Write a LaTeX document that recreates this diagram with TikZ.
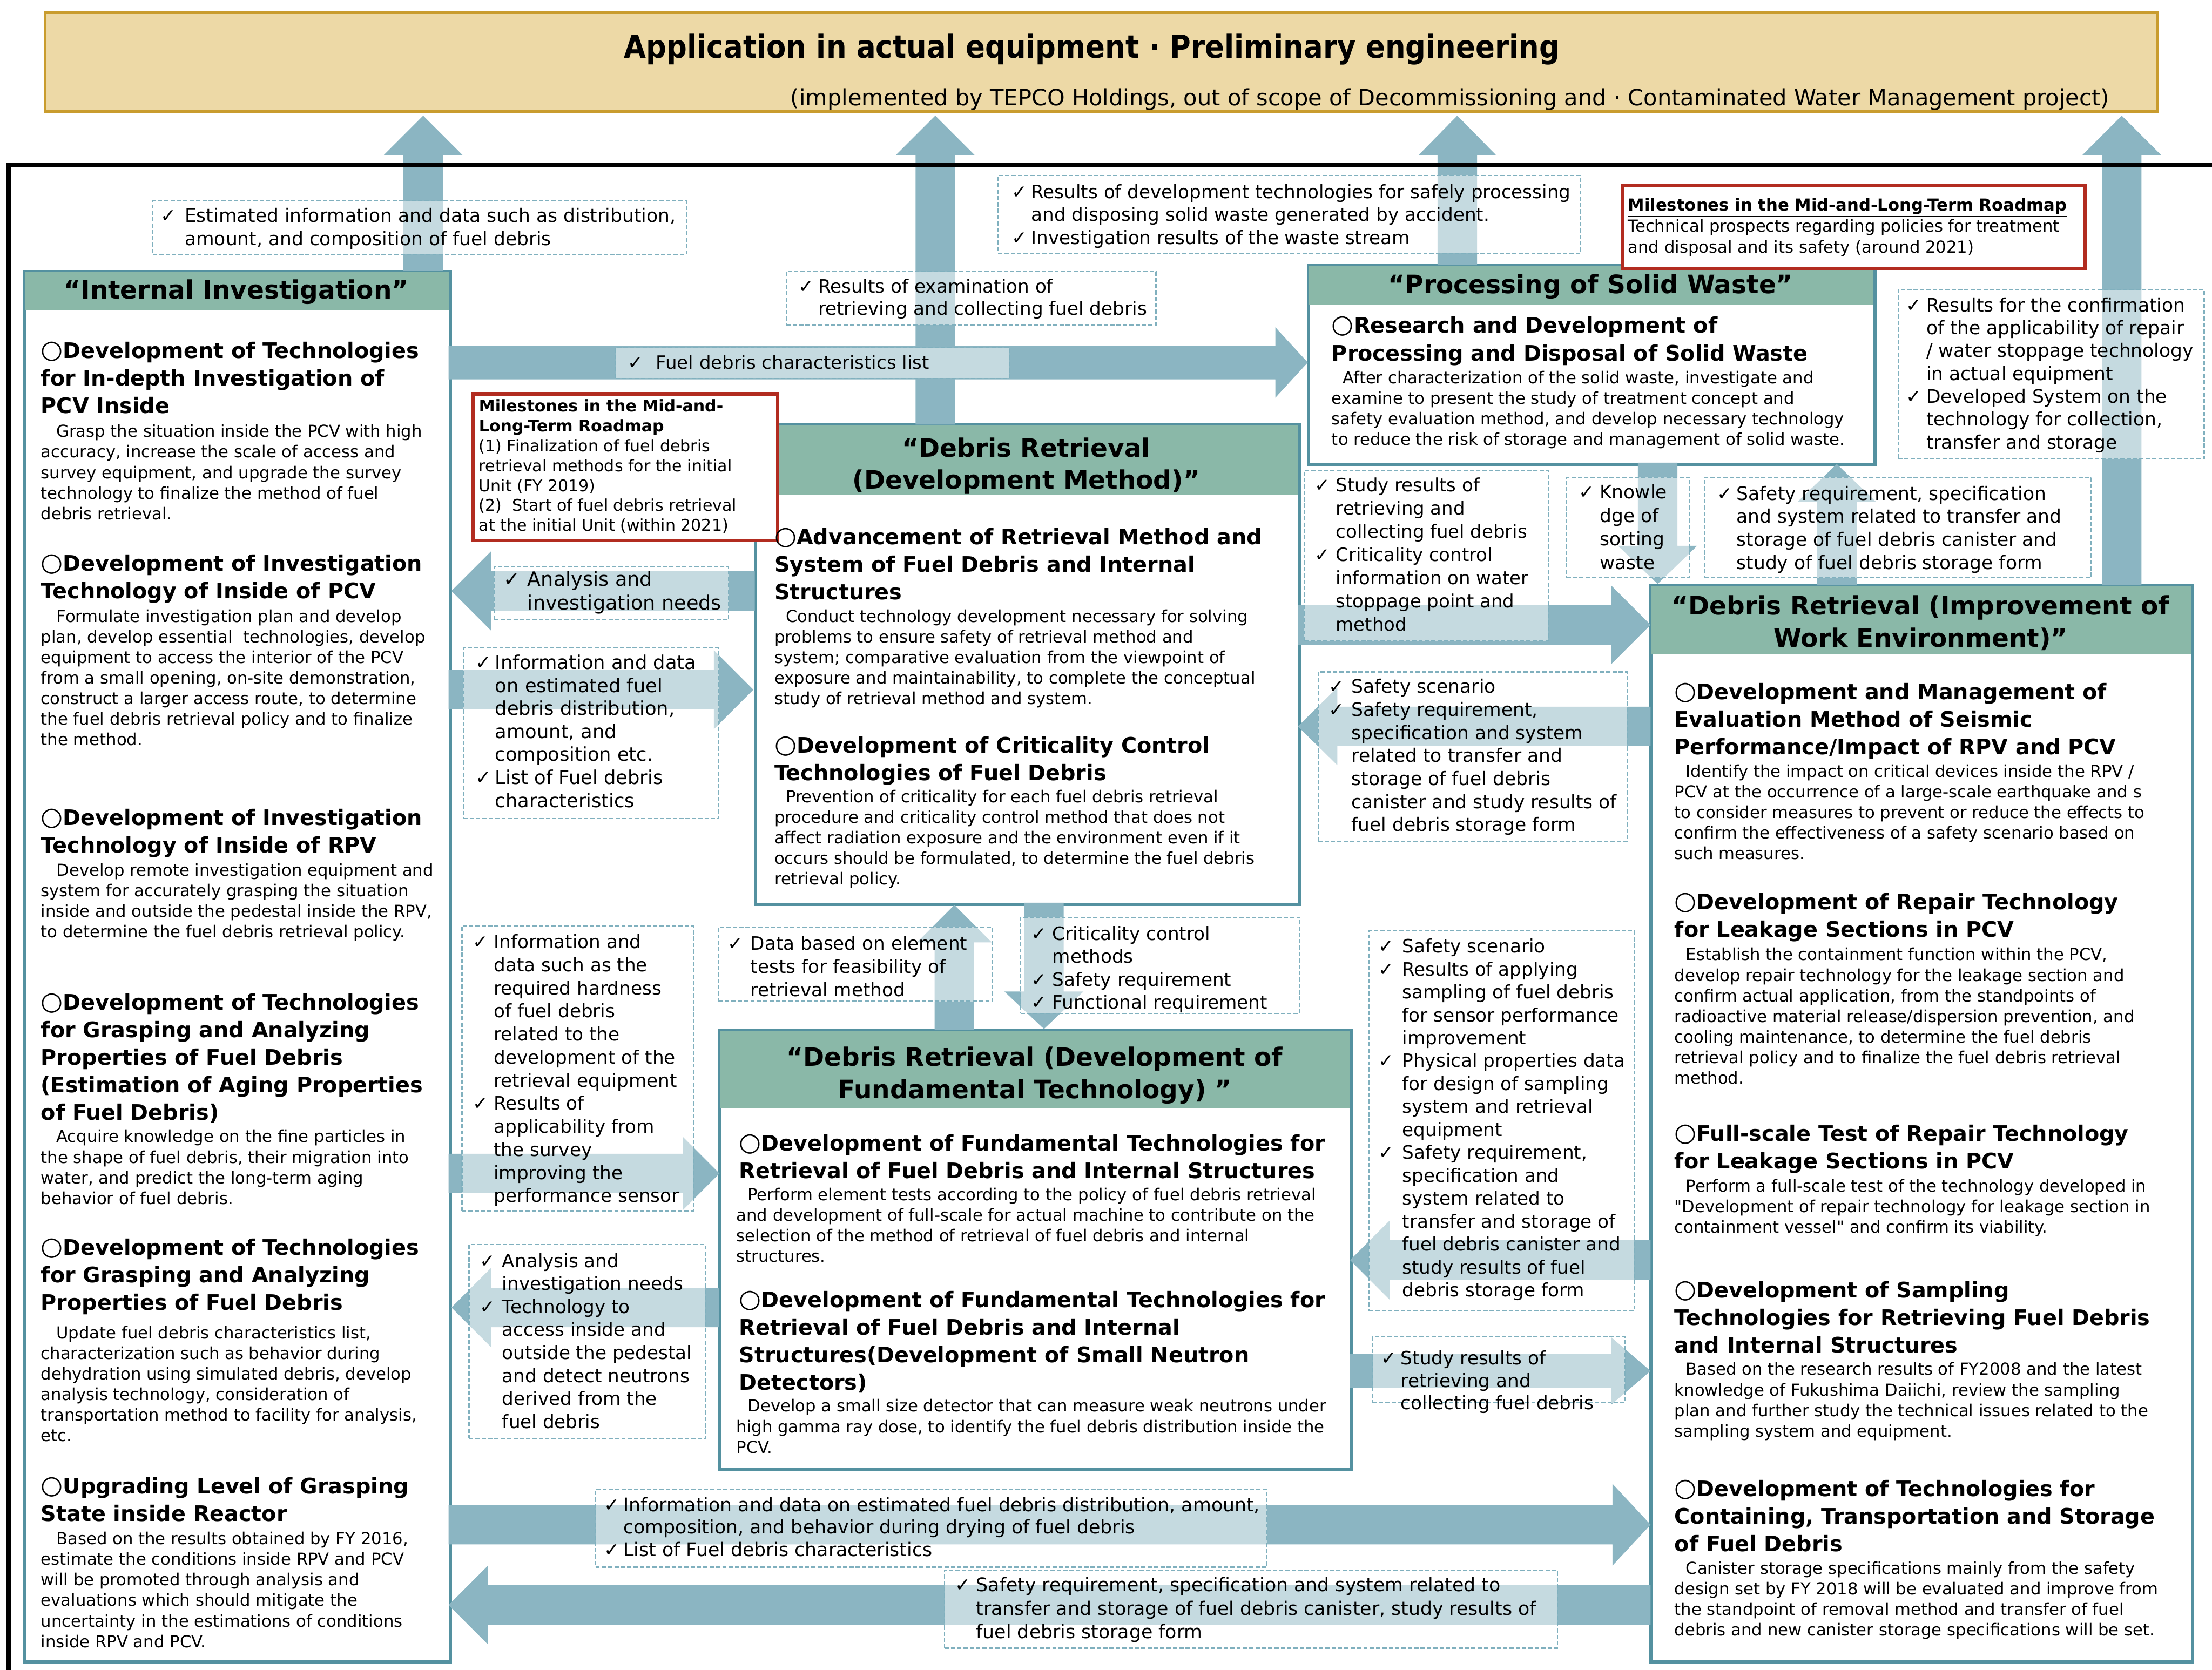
\documentclass[tikz,border=0pt]{standalone}
\usepackage{fontspec}
\setmainfont{DejaVu Sans}
\newfontfamily\narf{DejaVu Sans}[FakeStretch=0.9]
\newfontfamily\qf{DejaVu Sans}
\definecolor{arrowc}{RGB}{139,181,194}
\definecolor{lblc}{RGB}{128,176,190}
\definecolor{boxc}{RGB}{84,145,160}
\definecolor{hdrc}{RGB}{138,184,168}
\definecolor{banf}{RGB}{237,217,166}
\definecolor{band}{RGB}{201,156,46}
\definecolor{redc}{RGB}{178,44,32}
\newcommand\myVL[1]{\vtop{\halign{##\hfil\cr#1\crcr}}}
\newcommand\myVC[1]{\vtop{\halign{\hfil##\hfil\cr#1\crcr}}}
\def\cw{15pt}
\newcommand\ckm{\makebox[\cw][l]{✓}}
\newcommand\indm{\hspace*{\cw}}
\newcommand\iim{\hspace*{8pt}}
\newcommand\oom{{\mdseries\fontsize{18}{19.5}\selectfont ○}}
\newcommand\sq{{\qf"}}
\newcommand\arR[6]{\fill[arr] (#1,{#3-#4}) -- ({#2-#6},{#3-#4}) -- ({#2-#6},{#3-#5}) -- (#2,#3) -- ({#2-#6},{#3+#5}) -- ({#2-#6},{#3+#4}) -- (#1,{#3+#4}) -- cycle;}
\newcommand\arL[6]{\fill[arr] (#1,{#3-#4}) -- ({#2+#6},{#3-#4}) -- ({#2+#6},{#3-#5}) -- (#2,#3) -- ({#2+#6},{#3+#5}) -- ({#2+#6},{#3+#4}) -- (#1,{#3+#4}) -- cycle;}
\newcommand\arU[6]{\fill[arr] ({#1-#4},#2) -- ({#1-#4},{#3+#6}) -- ({#1-#5},{#3+#6}) -- (#1,#3) -- ({#1+#5},{#3+#6}) -- ({#1+#4},{#3+#6}) -- ({#1+#4},#2) -- cycle;}
\newcommand\arD[6]{\fill[arr] ({#1-#4},#2) -- ({#1-#4},{#3-#6}) -- ({#1-#5},{#3-#6}) -- (#1,#3) -- ({#1+#5},{#3-#6}) -- ({#1+#4},{#3-#6}) -- ({#1+#4},#2) -- cycle;}
\tikzset{
  arr/.style={fill=arrowc},
  mbox/.style={draw=boxc, line width=1.5pt, fill=white, anchor=north west, inner sep=0pt},
  lbl/.style={draw=lblc, dash pattern=on 3pt off 1.5pt, line width=0.9pt, fill=white, fill opacity=0.5, anchor=north west, inner sep=0pt},
  mst/.style={draw=redc, line width=2.5pt, fill=white, anchor=north west, inner sep=0pt},
  txt/.style={anchor=base west, inner sep=0pt, outer sep=0pt},
  body/.style={txt, font=\fontsize{11.75}{14.6}\selectfont},
  head/.style={txt, font=\bfseries\fontsize{15.2}{19.5}\selectfont},
  hdrt/.style={txt, anchor=base, font=\bfseries\fontsize{18}{22.7}\selectfont},
  lab/.style={txt, font=\fontsize{#1}{16.3}\selectfont},
  labp/.style 2 args={txt, font=\fontsize{#1}{#2}\selectfont},
}
\begin{document}
\begin{tikzpicture}[x=1pt,y=-1pt]
\useasboundingbox (0,0) rectangle (1568,1184);
% banner
\node[draw=band, fill=banf, line width=2pt, anchor=north west, minimum width=1497pt, minimum height=70pt, inner sep=0pt] (banner) at (31,8) {};
\node[txt, anchor=base, font=\narf\bfseries\fontsize{22.5}{27}\selectfont] (title) at (774,41) {Application in actual equipment · Preliminary engineering};
\node[txt, anchor=base east, font=\fontsize{15.9}{19}\selectfont] (subtitle) at (1495,75) {(implemented by TEPCO Holdings, out of scope of Decommissioning and · Contaminated Water Management project)};

% main boxes
\node[mbox, minimum width=301pt, minimum height=985pt] (lbox) at (17,192) {};
\node[mbox, minimum width=385pt, minimum height=339pt] (cbox) at (535,301) {};
\node[mbox, minimum width=401pt, minimum height=140pt] (pbox) at (927,188) {};
\node[mbox, minimum width=383pt, minimum height=762pt] (rbox) at (1170,415) {};
\node[mbox, minimum width=447pt, minimum height=311pt] (fbox) at (510,730) {};
\fill[hdrc] (17,192) rectangle (318,220);
\fill[hdrc] (535,301) rectangle (920,351);
\fill[hdrc] (927,188) rectangle (1328,216);
\fill[hdrc] (1170,415) rectangle (1553,464);
\fill[hdrc] (510,730) rectangle (957,786);
\foreach \b in {lbox,cbox,pbox,rbox,fbox} {\draw[boxc, line width=1.5pt] (\b.north west) rectangle (\b.south east);}

% arrows
\arU{300}{192}{82}{14}{28}{28}
\arU{663}{301}{82}{14}{28}{28}
\arU{1033}{188}{82}{14}{27.5}{28}
\arU{1504}{415}{82}{14}{28}{28}
\arR{318}{927}{257}{12}{25}{23}
\arL{535}{320}{419}{14}{28}{28}
\arR{318}{534}{489}{14}{28}{28}
\arR{920}{1170}{443}{14}{28}{28}
\arL{1170}{920}{515}{14}{27.5}{28}
\arD{1175}{328}{414}{14}{28}{27}
\arU{1302}{415}{329}{14}{28}{27}
\arU{676.5}{730}{641.6}{14}{26.5}{26.5}
\arD{740}{640}{729.5}{14}{28}{26.5}
\arR{318}{510}{832}{14}{26}{26}
\arL{509.5}{320}{927}{14}{28}{28}
\arL{1170}{957}{893.4}{14}{28}{28}
\arR{957}{1170}{972}{12}{24}{28}
\arR{318}{1170}{1081}{14}{29}{27}
\arL{1170}{318}{1138}{14}{28}{28}

% frame
\draw[line width=3pt] (1575,117) -- (6,117) -- (6,1195);

% milestones
\node[mst, minimum width=216pt, minimum height=104pt] (ms1) at (334,278) {};
\node[mst, minimum width=328pt, minimum height=59pt] (ms2) at (1149,130) {};

% label boxes
\node[lbl, minimum width=378pt, minimum height=38pt] (bL1) at (108,142) {};
\node[lbl, minimum width=413pt, minimum height=55pt] (bL2) at (707,124) {};
\node[lbl, minimum width=262pt, minimum height=38pt] (bL3) at (557,192) {};
\node[lbl, minimum width=279pt, minimum height=22pt] (bL4) at (436,246) {};
\node[lbl, minimum width=217pt, minimum height=120pt] (bL5) at (1345,205) {};
\node[lbl, minimum width=166pt, minimum height=38pt] (bL6) at (350,401) {};
\node[lbl, minimum width=181pt, minimum height=121pt] (bL7) at (328,459) {};
\node[lbl, minimum width=173pt, minimum height=121pt] (bL8) at (924,333) {};
\node[lbl, minimum width=219pt, minimum height=120pt] (bL9) at (934,476) {};
\node[lbl, minimum width=87pt, minimum height=71pt] (bL10) at (1110,338) {};
\node[lbl, minimum width=274pt, minimum height=71pt] (bL11) at (1208,338) {};
\node[lbl, minimum width=194pt, minimum height=52.5pt] (bL12) at (509,657) {};
\node[lbl, minimum width=198pt, minimum height=68pt] (bL13) at (723,650) {};
\node[lbl, minimum width=164pt, minimum height=202pt] (bL14) at (327,656) {};
\node[lbl, minimum width=167.5pt, minimum height=137.5pt] (bL15) at (332,882) {};
\node[lbl, minimum width=188pt, minimum height=269.5pt] (bL16) at (970,659.5) {};
\node[lbl, minimum width=179pt, minimum height=47pt] (bL17) at (972.5,947) {};
\node[lbl, minimum width=476pt, minimum height=55pt] (bL18) at (421.6,1055.7) {};
\node[lbl, minimum width=434.6pt, minimum height=55pt] (bL19) at (669,1113) {};

% header texts
\node[hdrt] (hL) at (167.5,212) {\myVC{“Internal Investigation”}};
\node[hdrt] (hC) at (727.5,324) {\myVC{“Debris Retrieval\cr(Development Method)”}};
\node[hdrt] (hP) at (1127.5,208) {\myVC{“Processing of Solid Waste”}};
\node[hdrt] (hR) at (1361.5,436) {\myVC{“Debris Retrieval (Improvement of\cr Work Environment)”}};
\node[hdrt] (hF) at (733.5,756) {\myVC{“Debris Retrieval (Development of\cr Fundamental Technology) ”}};

% left box texts
\node[head] (l1h) at (29,254) {\myVL{\oom Development of Technologies\cr for In-depth Investigation of\cr PCV Inside}};
\node[body] (l1b) at (29,310) {\myVL{\hspace*{11pt}Grasp the situation inside the PCV with high\cr accuracy, increase the scale of access and\cr survey equipment, and upgrade the survey\cr technology to finalize the method of fuel\cr debris retrieval.}};
\node[head] (l2h) at (29,405) {\myVL{\oom Development of Investigation\cr Technology of Inside of PCV}};
\node[body] (l2b) at (29,441) {\myVL{\hspace*{11pt}Formulate investigation plan and develop\cr plan, develop essential\ \ technologies, develop\cr equipment to access the interior of the PCV\cr from a small opening, on-site demonstration,\cr construct a larger access route, to determine\cr the fuel debris retrieval policy and to finalize\cr the method.}};
\node[head] (l3h) at (29,585) {\myVL{\oom Development of Investigation\cr Technology of Inside of RPV}};
\node[body] (l3b) at (29,621) {\myVL{\hspace*{11pt}Develop remote investigation equipment and\cr system for accurately grasping the situation\cr inside and outside the pedestal inside the RPV,\cr to determine the fuel debris retrieval policy.}};
\node[head] (l4h) at (29,716) {\myVL{\oom Development of Technologies\cr for Grasping and Analyzing\cr Properties of Fuel Debris\cr (Estimation of Aging Properties\cr of Fuel Debris)}};
\node[body] (l4b) at (29,810) {\myVL{\hspace*{11pt}Acquire knowledge on the fine particles in\cr the shape of fuel debris, their migration into\cr water, and predict the long-term aging\cr behavior of fuel debris.}};
\node[head] (l5h) at (29,890) {\myVL{\oom Development of Technologies\cr for Grasping and Analyzing\cr Properties of Fuel Debris}};
\node[body] (l5b) at (29,949) {\myVL{\hspace*{11pt}Update fuel debris characteristics list,\cr characterization such as behavior during\cr dehydration using simulated debris, develop\cr analysis technology, consideration of\cr transportation method to facility for analysis,\cr etc.}};
\node[head] (l6h) at (29,1059) {\myVL{\oom Upgrading Level of Grasping\cr State inside Reactor}};
\node[body] (l6b) at (29,1095) {\myVL{\hspace*{11pt}Based on the results obtained by FY 2016,\cr estimate the conditions inside RPV and PCV\cr will be promoted through analysis and\cr evaluations which should mitigate the\cr uncertainty in the estimations of conditions\cr inside RPV and PCV.}};

% center top box texts
\node[head] (c1h) at (549,386) {\myVL{\oom Advancement of Retrieval Method and\cr System of Fuel Debris and Internal\cr Structures}};
\node[body] (c1b) at (549,441) {\myVL{\iim Conduct technology development necessary for solving\cr problems to ensure safety of retrieval method and\cr system; comparative evaluation from the viewpoint of\cr exposure and maintainability, to complete the conceptual\cr study of retrieval method and system.}};
\node[head] (c2h) at (549,534) {\myVL{\oom Development of Criticality Control\cr Technologies of Fuel Debris}};
\node[body] (c2b) at (549,569) {\myVL{\iim Prevention of criticality for each fuel debris retrieval\cr procedure and criticality control method that does not\cr affect radiation exposure and the environment even if it\cr occurs should be formulated, to determine the fuel debris\cr retrieval policy.}};

% processing box texts
\node[txt, font=\bfseries\fontsize{15.2}{20}\selectfont] (p1h) at (944,236) {\myVL{\oom Research and Development of\cr Processing and Disposal of Solid Waste}};
\node[body] (p1b) at (944,272) {\myVL{\iim After characterization of the solid waste, investigate and\cr examine to present the study of treatment concept and\cr safety evaluation method, and develop necessary technology\cr to reduce the risk of storage and management of solid waste.}};

% right box texts
\node[head] (r1h) at (1187,496) {\myVL{\oom Development and Management of\cr Evaluation Method of Seismic\cr Performance/Impact of RPV and PCV}};
\node[body] (r1b) at (1187,551) {\myVL{\iim Identify the impact on critical devices inside the RPV /\cr PCV at the occurrence of a large-scale earthquake and s\cr to consider measures to prevent or reduce the effects to\cr confirm the effectiveness of a safety scenario based on\cr such measures.}};
\node[head] (r2h) at (1187,645) {\myVL{\oom Development of Repair Technology\cr for Leakage Sections in PCV}};
\node[body] (r2b) at (1187,681) {\myVL{\iim Establish the containment function within the PCV,\cr develop repair technology for the leakage section and\cr confirm actual application, from the standpoints of\cr radioactive material release/dispersion prevention, and\cr cooling maintenance, to determine the fuel debris\cr retrieval policy and to finalize the fuel debris retrieval\cr method.}};
\node[head] (r3h) at (1187,809) {\myVL{\oom Full-scale Test of Repair Technology\cr for Leakage Sections in PCV}};
\node[body] (r3b) at (1187,845) {\myVL{\iim Perform a full-scale test of the technology developed in\cr \sq Development of repair technology for leakage section in\cr containment vessel\sq\ and confirm its viability.}};
\node[head] (r4h) at (1187,920) {\myVL{\oom Development of Sampling\cr Technologies for Retrieving Fuel Debris\cr and Internal Structures}};
\node[body] (r4b) at (1187,975) {\myVL{\iim Based on the research results of FY2008 and the latest\cr knowledge of Fukushima Daiichi, review the sampling\cr plan and further study the technical issues related to the\cr sampling system and equipment.}};
\node[head] (r5h) at (1187,1061) {\myVL{\oom Development of Technologies for\cr Containing, Transportation and Storage\cr of Fuel Debris}};
\node[body] (r5b) at (1187,1116) {\myVL{\iim Canister storage specifications mainly from the safety\cr design set by FY 2018 will be evaluated and improve from\cr the standpoint of removal method and transfer of fuel\cr debris and new canister storage specifications will be set.}};

% fundamental box texts
\node[head] (f1h) at (524,816) {\myVL{\oom Development of Fundamental Technologies for\cr Retrieval of Fuel Debris and Internal Structures}};
\node[body] (f1b) at (522,851) {\myVL{\iim Perform element tests according to the policy of fuel debris retrieval\cr and development of full-scale for actual machine to contribute on the\cr selection of the method of retrieval of fuel debris and internal\cr structures.}};
\node[head] (f2h) at (524,927) {\myVL{\oom Development of Fundamental Technologies for\cr Retrieval of Fuel Debris and Internal\cr Structures(Development of Small Neutron\cr Detectors)}};
\node[body] (f2b) at (522,1001) {\myVL{\iim Develop a small size detector that can measure weak neutrons under\cr high gamma ray dose, to identify the fuel debris distribution inside the\cr PCV.}};

% milestone texts
\node[txt, font=\fontsize{11.5}{14.1}\selectfont] (ms1t) at (339.5,292) {\myVL{\underline{\textbf{Milestones in the Mid-and-}}\cr \underline{\textbf{Long-Term Roadmap}}\cr (1) Finalization of fuel debris\cr retrieval methods for the initial\cr Unit (FY 2019)\cr (2)\ \ Start of fuel debris retrieval\cr at the initial Unit (within 2021)}};
\node[txt, font=\fontsize{11.75}{15}\selectfont] (ms2t) at (1154,149.5) {\myVL{\underline{\textbf{Milestones in the Mid-and-Long-Term Roadmap}}\cr Technical prospects regarding policies for treatment\cr and disposal and its safety (around 2021)}};

% label texts
\node[labp={13.2}{16.5}] (L1) at (114,157.5) {\def\cw{17pt}\myVL{\ckm Estimated information and data such as distribution,\cr\indm amount, and composition of fuel debris}};
\node[lab=13.1] (L2) at (717,140.5) {\def\cw{14pt}\myVL{\ckm Results of development technologies for safely processing\cr\indm and disposing solid waste generated by accident.\cr\ckm Investigation results of the waste stream}};
\node[labp={13.1}{16}] (L3) at (566,207.5) {\def\cw{14pt}\myVL{\ckm Results of examination of\cr\indm retrieving and collecting fuel debris}};
\node[lab=13.0] (L4) at (445,261.5) {\def\cw{20pt}\myVL{\ckm Fuel debris characteristics list}};
\node[labp={13.2}{16.2}] (L5) at (1351,221) {\def\cw{14.5pt}\myVL{\ckm Results for the confirmation\cr\indm of the applicability of repair\cr\indm / water stoppage technology\cr\indm in actual equipment\cr\ckm Developed System on the\cr\indm technology for collection,\cr\indm transfer and storage}};
\node[labp={14}{17}] (L6) at (357,415.5) {\def\cw{17pt}\myVL{\ckm Analysis and\cr\indm investigation needs}};
\node[lab=13.5] (L7) at (337,474.5) {\def\cw{14pt}\myVL{\ckm Information and data\cr\indm on estimated fuel\cr\indm debris distribution,\cr\indm amount, and\cr\indm composition etc.\cr\ckm List of Fuel debris\cr\indm characteristics}};
\node[labp={13.0}{16.5}] (L8) at (932,348.5) {\def\cw{15pt}\myVL{\ckm Study results of\cr\indm retrieving and\cr\indm collecting fuel debris\cr\ckm Criticality control\cr\indm information on water\cr\indm stoppage point and\cr\indm method}};
\node[labp={13.2}{16.33}] (L9) at (942,491.5) {\def\cw{16pt}\myVL{\ckm Safety scenario\cr\ckm Safety requirement,\cr\indm specification and system\cr\indm related to transfer and\cr\indm storage of fuel debris\cr\indm canister and study results of\cr\indm fuel debris storage form}};
\node[labp={13.2}{16.7}] (L10) at (1119,353.5) {\def\cw{15pt}\myVL{\ckm Knowle\cr\indm dge of\cr\indm sorting\cr\indm waste}};
\node[labp={13.2}{16.4}] (L11) at (1217,354.5) {\def\cw{14pt}\myVL{\ckm Safety requirement, specification\cr\indm and system related to transfer and\cr\indm storage of fuel debris canister and\cr\indm study of fuel debris storage form}};
\node[labp={13.1}{16.5}] (L12) at (516,673.5) {\def\cw{16pt}\myVL{\ckm Data based on element\cr\indm tests for feasibility of\cr\indm retrieval method}};
\node[lab=13.1] (L13) at (731,666.5) {\def\cw{15pt}\myVL{\ckm Criticality control\cr\indm methods\cr\ckm Safety requirement\cr\ckm Functional requirement}};
\node[labp={13.1}{16.36}] (L14) at (335,672.5) {\def\cw{15pt}\myVL{\ckm Information and\cr\indm data such as the\cr\indm required hardness\cr\indm of fuel debris\cr\indm related to the\cr\indm development of the\cr\indm retrieval equipment\cr\ckm Results of\cr\indm applicability from\cr\indm the survey\cr\indm improving the\cr\indm performance sensor}};
\node[lab=13.1] (L15) at (340,898.5) {\def\cw{16pt}\myVL{\ckm Analysis and\cr\indm investigation needs\cr\ckm Technology to\cr\indm access inside and\cr\indm outside the pedestal\cr\indm and detect neutrons\cr\indm derived from the\cr\indm fuel debris}};
\node[labp={13.1}{16.26}] (L16) at (977,675.5) {\def\cw{17pt}\myVL{\ckm Safety scenario\cr\ckm Results of applying\cr\indm sampling of fuel debris\cr\indm for sensor performance\cr\indm improvement\cr\ckm Physical properties data\cr\indm for design of sampling\cr\indm system and retrieval\cr\indm equipment\cr\ckm Safety requirement,\cr\indm specification and\cr\indm system related to\cr\indm transfer and storage of\cr\indm fuel debris canister and\cr\indm study results of fuel\cr\indm debris storage form}};
\node[labp={13.1}{16}] (L17) at (979,967.5) {\def\cw{14pt}\myVL{\ckm Study results of\cr\indm retrieving and\cr\indm collecting fuel debris}};
\node[labp={13.3}{16}] (L18) at (428,1071.5) {\def\cw{14pt}\myVL{\ckm Information and data on estimated fuel debris distribution, amount,\cr\indm composition, and behavior during drying of fuel debris\cr\ckm List of Fuel debris characteristics}};
\node[labp={13.3}{16.5}] (L19) at (677,1128.5) {\def\cw{15pt}\myVL{\ckm Safety requirement, specification and system related to\cr\indm transfer and storage of fuel debris canister, study results of\cr\indm fuel debris storage form}};
\end{tikzpicture}
\end{document}
